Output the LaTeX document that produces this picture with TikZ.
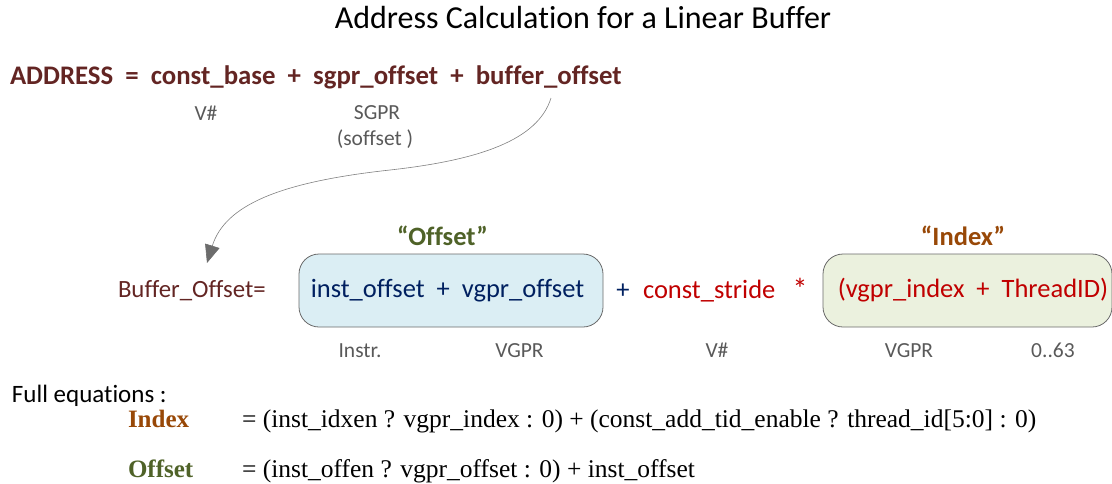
\documentclass[tikz,border=0pt]{standalone}
\usepackage{fontspec}
\setmainfont{Carlito}[Ligatures=NoCommon]
\newfontfamily\eqfont{Liberation Serif}[Ligatures=NoCommon]
\usetikzlibrary{arrows.meta}
\definecolor{addrred}{HTML}{632523}
\definecolor{navy}{HTML}{002060}
\definecolor{myred}{HTML}{C00000}
\definecolor{mygreen}{HTML}{4F6228}
\definecolor{mybrown}{HTML}{984807}
\definecolor{labgray}{HTML}{595959}
\definecolor{fillblue}{HTML}{DBEEF4}
\definecolor{fillgreen}{HTML}{EBF1DE}
\definecolor{boxborder}{HTML}{6A6A6A}
\begin{document}
\begin{tikzpicture}[x=1pt,y=-1pt,
  every node/.style={inner sep=0pt, outer sep=0pt},
  lab/.style={text=labgray, font=\fontsize{21.5}{25}\selectfont, anchor=base},
  term/.style={font=\fontsize{26.5}{30}\selectfont},
  hdr/.style={font=\bfseries\fontsize{26.5}{30}\selectfont, anchor=base},
  eqbox/.style={draw=boxborder, line width=0.8pt, rounded corners=20pt, minimum height=73pt},
  eqtxt/.style={font=\eqfont\fontsize{25.5}{30}\selectfont, anchor=base west},
  eqhdr/.style={font=\eqfont\bfseries\fontsize{25}{30}\selectfont, anchor=base west},
  conn/.style={draw=gray, line width=0.6pt, -{Triangle[length=18pt,width=15pt,fill=gray!85!black,color=gray!85!black]}}
]
\useasboundingbox (0,0) rectangle (1112,483);
% title
\node[anchor=base] (title) at (583,28) {\fontsize{32}{36}\selectfont Address Calculation for a Linear Buffer};
% address line
\node[anchor=base west, text=addrred, font=\bfseries\fontsize{26.8}{31}\selectfont] (addr) at (10,84)
  {ADDRESS\ \ =\ \ const\_base\ \ +\ \ sgpr\_offset\ \ +\ \ buffer\_offset};
\node[lab] (vsharp1) at (206,120) {V\#};
\node[lab] (sgpr) at (377,119) {SGPR};
\node[lab] (soff) at (375,145) {(soffset )};
% second line
\node[anchor=base west, text=addrred, font=\fontsize{24.8}{29}\selectfont] (bo) at (118,297) {Buffer\_Offset=};
\node[eqbox, fill=fillblue, minimum width=304pt, term, text=navy] (offbox) at (451,290.5) {inst\_offset\ \ +\ \ vgpr\_offset\hspace*{7pt}};
\node[hdr, text=mygreen] (offhdr) at (442.5,245) {“Offset”};
\node[term, text=navy, anchor=base] (plus) at (623,298) {+};
\node[term, text=myred, anchor=base west] (stride) at (643,298) {const\_stride};
\node[term, text=myred, anchor=base] (star) at (800,299) {\fontsize{30}{34}\selectfont *};
\node[eqbox, fill=fillgreen, minimum width=289pt, term, text=myred, anchor=west] (idxbox) at (823,290.5) {\hspace*{11pt}(vgpr\_index\ \ +\ \ ThreadID)};
\node[hdr, text=mybrown] (idxhdr) at (963,245) {“Index”};
% sub labels
\node[lab] (l1) at (360,357) {Instr.};
\node[lab] (l2) at (519.5,357) {VGPR};
\node[lab] (l3) at (717,357) {V\#};
\node[lab] (l4) at (909,357) {VGPR};
\node[lab] (l5) at (1053,357) {0..63};
% curved connector
\coordinate (cstart) at (551,98);
\coordinate (ctip) at (207,263);
\draw[conn] (cstart) .. controls (538,140) and (480,160) .. (390,170) .. controls (280,182) and (225,205) .. (ctip);
% full equations
\node[anchor=base west, font=\fontsize{25}{30}\selectfont] (full) at (12,402) {Full equations :};
\node[eqhdr, text=mybrown] (ih) at (128,427) {Index};
\node[eqtxt] (ieq) at (242,427) {= (inst\_idxen ? vgpr\_index : 0) + (const\_add\_tid\_enable ? thread\_id[5:0] : 0)};
\node[eqhdr, text=mygreen] (oh) at (128,477) {Offset};
\node[eqtxt] (oeq) at (242,477) {= (inst\_offen ? vgpr\_offset : 0) + inst\_offset};
\end{tikzpicture}
\end{document}
